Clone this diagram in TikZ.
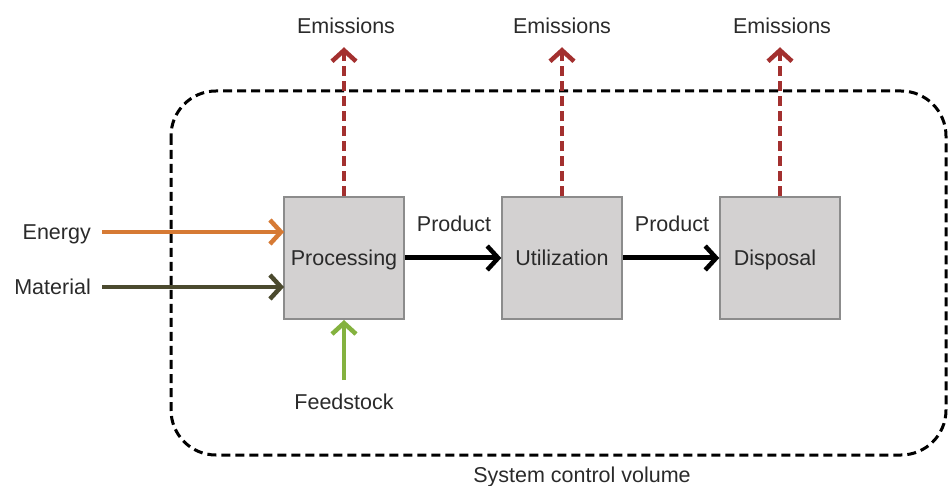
\documentclass[tikz,border=0pt]{standalone}
\usepackage{fontspec}
\setmainfont{Liberation Sans}
\usetikzlibrary{arrows.meta}
\definecolor{boxfill}{HTML}{D3D1D1}
\definecolor{boxline}{HTML}{8C8C8C}
\definecolor{energyc}{HTML}{D67A34}
\definecolor{materialc}{HTML}{4B4A2E}
\definecolor{feedc}{HTML}{84B23F}
\definecolor{emisc}{HTML}{A3302F}
\definecolor{txt}{HTML}{2A2A2A}
\tikzset{
  stagebox/.style={draw=boxline, fill=boxfill, line width=1.5pt, minimum width=120pt, minimum height=122pt, inner sep=0pt, text=txt, font=\fontsize{21.5}{24}\selectfont},
  lbl/.style={text=txt, font=\fontsize{21.5}{24}\selectfont, inner sep=0pt, text height=15.5pt, text depth=4.5pt, yshift=-2pt},
  flow/.style={line width=4pt, -{Straight Barb[length=11pt,width=24pt,line width=4.5pt]}},
  emis/.style={flow, draw=emisc, dash pattern=on 10pt off 5pt},
}
\begin{document}
\begin{tikzpicture}[x=1pt,y=-1pt]
\useasboundingbox (0,0) rectangle (948,486);
% system boundary
\draw[line width=3pt, dash pattern=on 9pt off 5pt, rounded corners=45pt] (171,91) rectangle (946,455);
% boxes
\node[stagebox] (proc) at (344,258) {};
\node[stagebox] (util) at (562,258) {};
\node[stagebox] (disp) at (780,258) {};
\node[lbl] (proct) at (proc.center) {Processing};
\node[lbl] (utilt) at (util.center) {Utilization};
\node[lbl] (dispt) at ([xshift=-5pt]disp.center) {Disposal};
% labels
\node[lbl] (em1) at (346,26) {Emissions};
\node[lbl] (em2) at (562,26) {Emissions};
\node[lbl] (em3) at (782,26) {Emissions};
\node[lbl, anchor=east] (energy) at (91,232) {Energy};
\node[lbl, anchor=east] (material) at (91,287) {Material};
\node[lbl] (feed) at (344,402) {Feedstock};
\node[lbl] (p1) at (454,224) {Product};
\node[lbl] (p2) at (672,224) {Product};
\node[lbl] (scv) at (582,475) {System control volume};
% coordinates
\coordinate (ein) at (284,232);
\coordinate (min) at (284,287);
\coordinate (fin) at (344,320);
\coordinate (fstart) at (344,380);
\coordinate (estart) at (102,232);
\coordinate (mstart) at (102,287);
% flows
\draw[flow, draw=energyc] (estart) -- (ein);
\draw[flow, draw=materialc] (mstart) -- (min);
\draw[flow, draw=feedc] (fstart) -- (fin);
\draw[flow, draw=black, line width=5pt] (proc.east) -- (util.west);
\draw[flow, draw=black, line width=5pt] (util.east) -- (disp.west);
\draw[emis] (proc.north) -- ++(0,-149) coordinate (e1);
\draw[emis] (util.north) -- ++(0,-149) coordinate (e2);
\draw[emis] (disp.north) -- ++(0,-149) coordinate (e3);
\end{tikzpicture}
\end{document}
